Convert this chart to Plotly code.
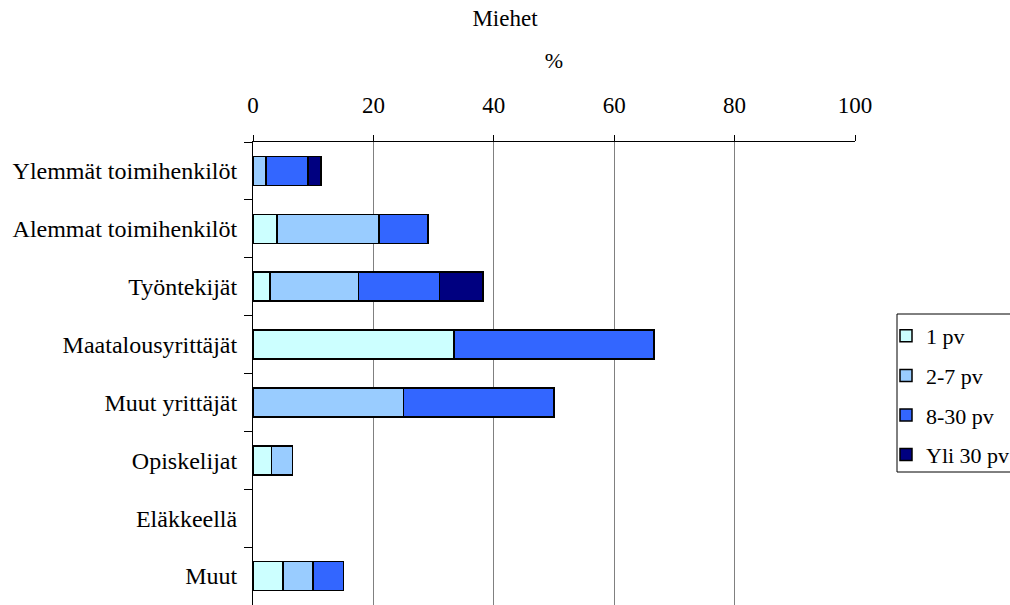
import plotly.graph_objects as go

categories = [
    "Ylemmät toimihenkilöt",
    "Alemmat toimihenkilöt",
    "Työntekijät",
    "Maatalousyrittäjät",
    "Muut yrittäjät",
    "Opiskelijat",
    "Eläkkeellä",
    "Muut",
]

series_names = ["1 pv", "2-7 pv", "8-30 pv", "Yli 30 pv"]
pv_1 = [0.0, 4.0, 2.8, 33.4, 0.0, 3.1, 0.0, 5.0]
pv_2_7 = [2.2, 16.9, 14.7, 0.0, 25.0, 3.5, 0.0, 5.0]
pv_8_30 = [6.9, 8.2, 13.5, 33.2, 25.0, 0.0, 0.0, 5.0]
pv_yli_30 = [2.2, 0.0, 7.2, 0.0, 0.0, 0.0, 0.0, 0.0]

x_ticks = [0, 20, 40, 60, 80, 100]

colors = ["#CCFFFF", "#99CCFF", "#3366FF", "#000080"]
FONT = "Liberation Serif, Times New Roman, serif"

fig = go.Figure()
for i, (name, vals, col) in enumerate(
        zip(series_names, [pv_1, pv_2_7, pv_8_30, pv_yli_30], colors)):
    fig.add_trace(go.Bar(
        y=categories,
        # empty segments are left out so no outline is drawn for them
        x=[v if v > 0 else None for v in vals],
        name=name,
        legendgroup=f"g{i}",
        orientation="h",
        marker=dict(color=col, line=dict(color="black", width=1.5)),
    ))

fig.update_layout(
    width=1010,
    height=605,
    barmode="stack",
    bargap=0.5,
    plot_bgcolor="white",
    paper_bgcolor="white",
    font=dict(family=FONT, size=23, color="black"),
    margin=dict(l=253, r=155, t=142, b=0),
    title=dict(text="Miehet", x=0.5, xanchor="center", y=0.97, yanchor="middle",
               font=dict(family=FONT, size=23, color="black")),
    showlegend=True,
    legend=dict(
        xref="container", yref="container",
        x=886 / 1010, y=1 - 315 / 605, xanchor="left", yanchor="top",
        borderwidth=0, bgcolor="rgba(0,0,0,0)",
        font=dict(family=FONT, size=22, color="black"),
        tracegroupgap=8, itemwidth=30, traceorder="grouped",
    ),
    # legend frame
    shapes=[dict(
        type="rect", xref="paper", yref="paper",
        x0=(897 - 253) / 602, x1=(1012 - 253) / 602,
        y0=1 - (472 - 142) / 463, y1=1 - (314 - 142) / 463,
        line=dict(color="black", width=1), fillcolor="rgba(0,0,0,0)",
        layer="below",
    )],
)

fig.update_xaxes(
    side="top",
    range=[0, 100],
    tickvals=x_ticks,
    ticktext=[str(v) for v in x_ticks],
    showgrid=True, gridcolor="#808080", gridwidth=1,
    showline=True, linecolor="black", linewidth=1,
    ticks="outside", ticklen=6, tickcolor="black",
    zeroline=False,
    ticklabelstandoff=13,
    title=dict(text="%", standoff=18, font=dict(family=FONT, size=22)),
)

fig.update_yaxes(
    autorange="reversed",
    type="category",
    showline=True, linecolor="black", linewidth=1,
    ticks="outside", ticklen=8, tickcolor="black",
    tickson="boundaries",
    showgrid=False,
    ticklabelstandoff=10,
    tickfont=dict(family=FONT, size=24),
)

fig.write_html("out.html")
